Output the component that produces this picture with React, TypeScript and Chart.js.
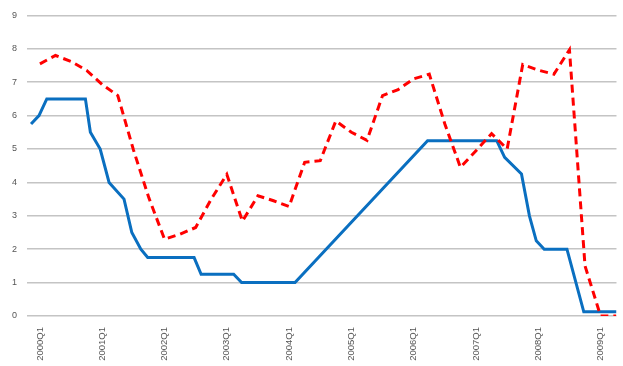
import React, { useEffect, useRef } from "react";
import { Chart, registerables } from "chart.js";

Chart.register(...registerables);

// x positions are in quarters counted from 2000Q1 (= 0)
const xTickQuarters = [0, 4, 8, 12, 16, 20, 24, 28, 32, 36];
const xTickLabels = ["2000Q1", "2001Q1", "2002Q1", "2003Q1", "2004Q1", "2005Q1", "2006Q1", "2007Q1", "2008Q1", "2009Q1"];

// Blue solid series (actual rate)
const blueQuarter = [-0.57, -0.06, 0.44, 2.92, 3.24, 3.87, 4.44, 5.4, 5.9, 6.48, 6.92, 9.9, 10.35, 12.44, 12.95, 16.38, 24.89, 29.33, 29.84, 30.92, 31.43, 31.87, 32.38, 33.84, 34.92, 37.02];
const blueRate = [5.75, 6.0, 6.5, 6.5, 5.5, 5.0, 4.0, 3.5, 2.5, 2.0, 1.75, 1.75, 1.25, 1.25, 1.0, 1.0, 5.25, 5.25, 4.75, 4.25, 3.0, 2.25, 2.0, 2.0, 0.125, 0.125];

// Red dashed series (quarterly, from 2000Q1)
const redRate = [7.55, 7.8, 7.62, 7.35, 6.93, 6.6, 4.98, 3.53, 2.3, 2.45, 2.65, 3.5, 4.24, 2.84, 3.6, 3.45, 3.28, 4.6, 4.65, 5.84, 5.5, 5.26, 6.6, 6.78, 7.1, 7.24, 5.75, 4.45, 4.95, 5.46, 5.0, 7.53, 7.36, 7.24, 7.97, 1.5, 0.0, 0.0];

const yTicks = [0, 1, 2, 3, 4, 5, 6, 7, 8, 9];

export default function App() {
  const canvasRef = useRef<HTMLCanvasElement | null>(null);

  useEffect(() => {
    document.body.style.margin = "0";
    const canvas = canvasRef.current;
    if (!canvas) return;
    const chart = new Chart(canvas, {
      type: "line",
      data: {
        datasets: [
          {
            label: "Red",
            data: redRate.map((v, i) => ({ x: i, y: v })),
            borderColor: "#ff0000",
            borderWidth: 3,
            borderDash: [8, 5],
            pointRadius: 0,
            tension: 0,
            fill: false,
          },
          {
            label: "Blue",
            data: blueQuarter.map((q, i) => ({ x: q, y: blueRate[i] })),
            borderColor: "#0a6fc0",
            borderWidth: 3,
            pointRadius: 0,
            tension: 0,
            fill: false,
          },
        ],
      },
      options: {
        animation: false,
        responsive: false,
        maintainAspectRatio: false,
        layout: { padding: { top: 7, left: 0, right: 0, bottom: 0 } },
        plugins: {
          legend: { display: false },
          tooltip: { enabled: false },
          title: { display: false },
        },
        scales: {
          x: {
            type: "linear",
            min: -0.83,
            max: 37.02,
            grid: { display: false, drawTicks: false },
            border: { display: false },
            afterBuildTicks: (axis: any) => {
              axis.ticks = xTickQuarters.map((v) => ({ value: v }));
            },
            afterFit: (axis: any) => {
              axis.height = 50;
            },
            ticks: {
              autoSkip: false,
              minRotation: 90,
              maxRotation: 90,
              padding: 11,
              color: "#555555",
              font: { family: "'Liberation Sans', Arial, sans-serif", size: 9.5 },
              callback: (value: any) => {
                const idx = xTickQuarters.indexOf(Number(value));
                return idx >= 0 ? xTickLabels[idx] : "";
              },
            },
          },
          y: {
            min: 0,
            max: 9,
            afterBuildTicks: (axis: any) => {
              axis.ticks = yTicks.map((v) => ({ value: v }));
            },
            afterFit: (axis: any) => {
              axis.width = 27;
            },
            grid: { color: "#c4c4c4", lineWidth: 1.6, drawTicks: false },
            border: { display: false },
            ticks: {
              padding: 10,
              color: "#555555",
              font: { family: "'Liberation Sans', Arial, sans-serif", size: 9 },
            },
          },
        },
      },
    });
    return () => chart.destroy();
  }, []);

  return (
    <div style={{ position: "fixed", left: 0, top: 0, width: 623, height: 366, background: "#ffffff" }}>
      <canvas ref={canvasRef} width={623} height={366} style={{ display: "block", width: 623, height: 366 }} />
    </div>
  );
}
